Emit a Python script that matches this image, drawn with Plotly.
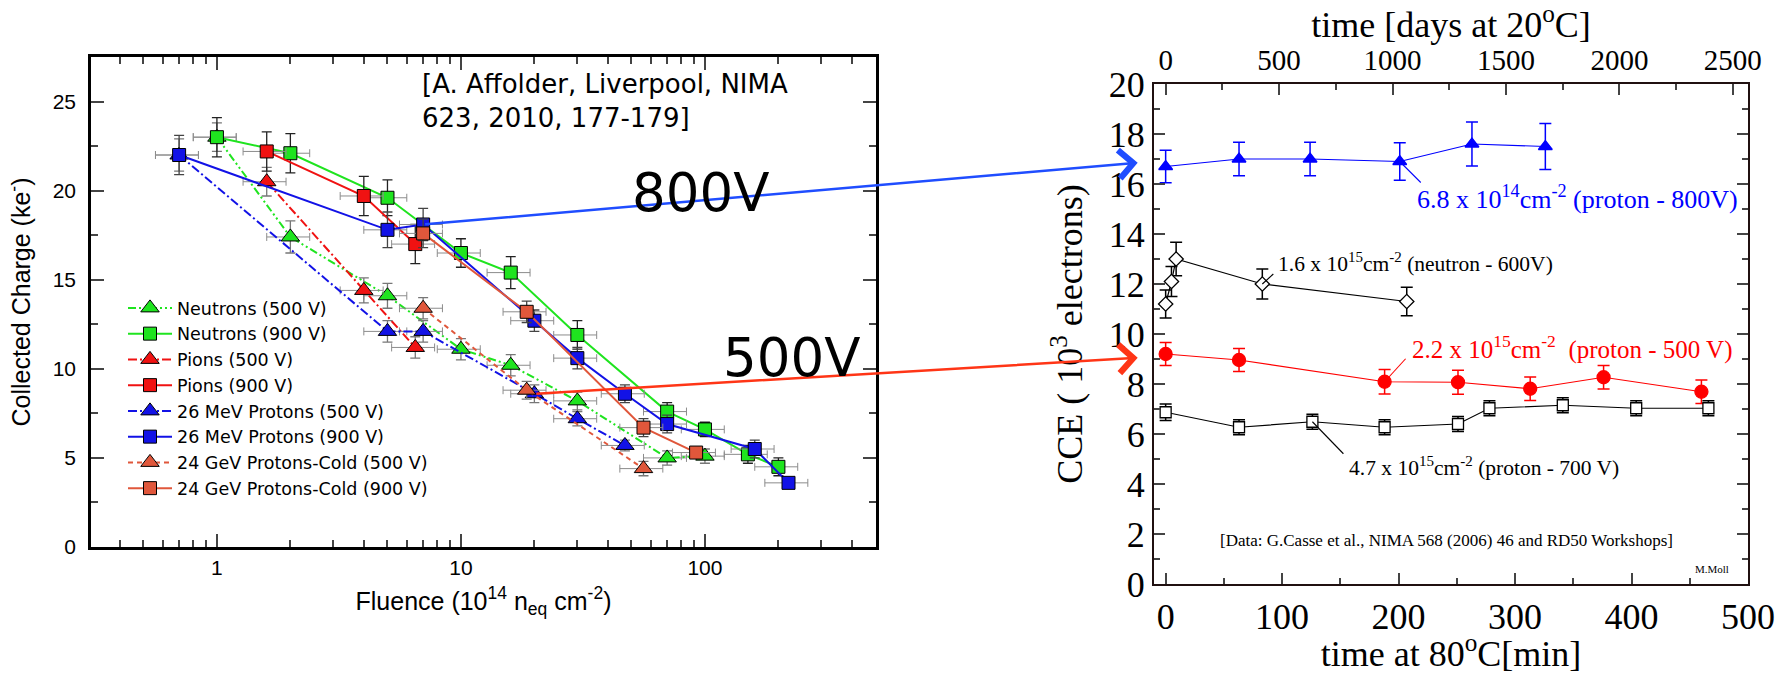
import numpy as np
import plotly.graph_objects as go

# ---------------- Left chart data: fluence (1e14 neq/cm2) vs collected charge (ke-)
neu500_f = [1, 2, 5, 10, 16, 30, 70, 100]
neu500_q = [23.0, 17.4, 14.1, 11.1, 10.2, 8.2, 5.0, 5.1]
neu500_e = [0.8, 0.9, 0.7, 0.6, 0.6, 0.5, 0.4, 0.4]
neu900_f = [1, 2, 5, 10, 16, 30, 70, 100, 150, 200]
neu900_q = [23.0, 22.1, 19.6, 16.5, 15.4, 11.9, 7.6, 6.6, 5.2, 4.5]
neu900_e = [1.1, 1.1, 1.0, 0.8, 0.9, 0.8, 0.5, 0.4, 0.5, 0.5]
pio500_f = [1.6, 4, 6.5]
pio500_q = [20.5, 14.4, 11.2]
pio500_e = [0.8, 0.7, 0.6]
pio900_f = [1.6, 4, 6.5]
pio900_q = [22.2, 19.7, 17.0]
pio900_e = [1.1, 1.1, 1.1]
p26_500_f = [0.7, 5, 7, 20, 30, 47]
p26_500_q = [22.0, 12.1, 12.1, 8.6, 7.2, 5.7]
p26_500_e = [0.9, 0.6, 0.6, 0.5, 0.4, 0.3]
p26_900_f = [0.7, 5, 7, 20, 30, 47, 70, 160, 220]
p26_900_q = [22.0, 17.8, 18.1, 12.7, 10.6, 8.6, 6.9, 5.5, 3.6]
p26_900_e = [1.1, 1.0, 0.9, 0.6, 0.6, 0.5, 0.5, 0.5, 0.3]
p24_500_f = [7, 18.6, 56]
p24_500_q = [13.4, 8.8, 4.4]
p24_500_e = [0.6, 0.5, 0.4]
p24_900_f = [7, 18.6, 56, 92]
p24_900_q = [17.6, 13.2, 6.7, 5.3]
p24_900_e = [0.8, 0.6, 0.5, 0.3]

# ---------------- Right chart data: annealing time at 80C (min) vs CCE (1e3 electrons)
t_blue = [0, 63, 124, 201, 263, 326]
cce_blue = [16.7, 17.0, 17.0, 16.9, 17.6, 17.5]
err_blue = [0.65, 0.67, 0.67, 0.75, 0.88, 0.92]
t_neu = [0, 5, 9, 83, 207]
cce_neu = [11.2, 12.1, 13.0, 12.0, 11.3]
err_neu = [0.56, 0.6, 0.67, 0.6, 0.57]
t_red = [0, 63, 188, 251, 313, 376, 460]
cce_red = [9.2, 8.96, 8.09, 8.07, 7.81, 8.27, 7.69]
err_red = [0.46, 0.46, 0.49, 0.48, 0.47, 0.47, 0.47]
t_blk = [0, 63, 126, 188, 251, 278, 341, 404, 466]
cce_blk = [6.87, 6.27, 6.49, 6.27, 6.4, 7.03, 7.15, 7.03, 7.03]
err_blk = [0.33, 0.3, 0.3, 0.3, 0.3, 0.3, 0.3, 0.3, 0.3]

# ---------------- layout constants
W, H = 1788, 674
LX_DOM = [91 / W, 876 / W]
LY_DOM = [1 - 547 / H, 1 - 57 / H]
LX_RANGE = [-0.516, 2.701]
LY_RANGE = [0, 27.5]
RX_DOM = [1154 / W, 1748 / W]
RY_DOM = [1 - 584 / H, 1 - 84 / H]
RX_RANGE = [-10, 500]
RX3_RANGE = [-51.6, 2567]
RY_RANGE = [0, 20]
ARROW_T = -24  # arrow tip position in minutes (just left of right axis)

GREEN = "#1fe41f"
RED = "#f01212"
BLUE = "#1212e6"
ORANGE = "#e0573b"
SANS = "Liberation Sans"
VERD = "DejaVu Sans"
SERIF = "Liberation Serif"

fig = go.Figure()


def left_trace(name, f, q, e, color, symbol, size, dash, ecol):
    fig.add_trace(go.Scatter(
        x=f, y=q, name=name, mode="lines+markers", xaxis="x", yaxis="y",
        line=dict(color=color, width=2, dash=dash),
        marker=dict(symbol=symbol, size=size, color=color,
                    line=dict(color="black", width=1)),
        error_y=dict(type="data", array=e, color=ecol, thickness=1.3, width=5),
        error_x=dict(type="percent", value=20, color="#8c8c8c", thickness=1, width=4),
    ))


DD = "8px,3px,2px,3px,2px,3px"
DA = "9px,3px,2px,3px"
left_trace("Neutrons (500 V)", neu500_f, neu500_q, neu500_e, GREEN, "triangle-up", 16, DD, "#777")
left_trace("Neutrons (900 V)", neu900_f, neu900_q, neu900_e, GREEN, "square", 13, "solid", "#222")
left_trace("Pions (500 V)", pio500_f, pio500_q, pio500_e, RED, "triangle-up", 16, DA, "#777")
left_trace("Pions (900 V)", pio900_f, pio900_q, pio900_e, RED, "square", 13, "solid", "#222")
left_trace("26 MeV Protons (500 V)", p26_500_f, p26_500_q, p26_500_e, BLUE, "triangle-up", 16, DA, "#777")
left_trace("26 MeV Protons (900 V)", p26_900_f, p26_900_q, p26_900_e, BLUE, "square", 13, "solid", "#444")
left_trace("24 GeV Protons-Cold (500 V)", p24_500_f, p24_500_q, p24_500_e, ORANGE, "triangle-up", 16, "5px,4px", "#777")
left_trace("24 GeV Protons-Cold (900 V)", p24_900_f, p24_900_q, p24_900_e, ORANGE, "square", 13, "solid", "#444")


def right_trace(t, c, e, color, symbol, size, fill):
    fig.add_trace(go.Scatter(
        x=t, y=c, mode="lines+markers", xaxis="x2", yaxis="y2", showlegend=False,
        line=dict(color=color, width=1.2),
        marker=dict(symbol=symbol, size=size, color=fill, line=dict(color=color, width=1.3)),
        error_y=dict(type="data", array=e, color=color, thickness=1.5, width=6),
    ))


right_trace(t_blue, cce_blue, err_blue, "#0000ff", "triangle-up", 12, "#0000ff")
right_trace(t_neu, cce_neu, err_neu, "black", "diamond", 11, "white")
right_trace(t_red, cce_red, err_red, "#ff0000", "circle", 13, "#ff0000")
right_trace(t_blk, cce_blk, err_blk, "black", "square", 11, "white")
# top (days at 20C) axis carrier
fig.add_trace(go.Scatter(x=[], y=[], xaxis="x3", yaxis="y2", showlegend=False))


def left_px(f, q):
    fx = LX_DOM[0] + (np.log10(f) - LX_RANGE[0]) / (LX_RANGE[1] - LX_RANGE[0]) * (LX_DOM[1] - LX_DOM[0])
    fy = LY_DOM[0] + (q - LY_RANGE[0]) / (LY_RANGE[1] - LY_RANGE[0]) * (LY_DOM[1] - LY_DOM[0])
    return fx * W, (1 - fy) * H


def right_paper(t, c):
    fx = RX_DOM[0] + (t - RX_RANGE[0]) / (RX_RANGE[1] - RX_RANGE[0]) * (RX_DOM[1] - RX_DOM[0])
    fy = RY_DOM[0] + (c - RY_RANGE[0]) / (RY_RANGE[1] - RY_RANGE[0]) * (RY_DOM[1] - RY_DOM[0])
    return fx, fy


annotations = []
# big arrows from the left chart points to the right chart series
for (f, q), c_tip, col in [((p26_900_f[2], p26_900_q[2]), cce_blue[0] + 0.15, "#1f4dff"),
                           ((p26_500_f[3], p26_500_q[3]), cce_red[0] - 0.15, "#ff3516")]:
    hx, hy = right_paper(ARROW_T, c_tip)
    tx, ty = left_px(f, q)
    annotations.append(dict(
        xref="paper", yref="paper", x=hx, y=hy, axref="pixel", ayref="pixel",
        ax=tx - hx * W, ay=ty - (1 - hy) * H, showarrow=True, arrowhead=4,
        arrowsize=2.2, arrowwidth=2.5, arrowcolor=col, text=" ", font=dict(size=4)))

# leader lines in right chart (pixel-sized segments anchored on data points)
shapes = []
for (t, c, dx, dy, col) in [(t_blue[3], cce_blue[3], 21, -21, "#0000ff"),
                            (t_neu[3], cce_neu[3], 11, 10, "black"),
                            (t_red[2], cce_red[2], 21, 23, "#ff0000"),
                            (t_blk[2], cce_blk[2], 31, -32, "black")]:
    shapes.append(dict(type="line", xref="x2", yref="y2", xsizemode="pixel", ysizemode="pixel",
                       xanchor=t, yanchor=c, x0=0, x1=dx, y0=0, y1=dy,
                       line=dict(color=col, width=1.1)))

# right chart labels
rlabels = [
    ("6.8 x 10<sup>14</sup>cm<sup>-2</sup> (proton - 800V)", 213.7, 15.48, 26, "#0000ff"),
    ("1.6 x 10<sup>15</sup>cm<sup>-2</sup> (neutron - 600V)", 94.5, 12.88, 21.5, "black"),
    ("2.2 x 10<sup>15</sup>cm<sup>-2</sup> \u00a0(proton - 500 V)", 209.4, 9.48, 25, "#ff0000"),
    ("4.7 x 10<sup>15</sup>cm<sup>-2</sup> (proton - 700 V)", 155.3, 4.72, 21.5, "black"),
    ("[Data: G.Casse et al., NIMA 568 (2006) 46 and RD50 Workshops]", 44.8, 1.73, 17, "black"),
]
for txt, x, y, s, col in rlabels:
    annotations.append(dict(xref="x2", yref="y2", x=x, y=y, text=txt, showarrow=False,
                            xanchor="left", yanchor="middle",
                            font=dict(family=SERIF, size=s, color=col)))
annotations.append(dict(xref="x2", yref="y2", x=469, y=0.6, text="M.Moll", showarrow=False,
                        xanchor="center", yanchor="middle",
                        font=dict(family=SERIF, size=11, color="black")))

# left chart texts
annotations.append(dict(xref="paper", yref="paper", x=420 / W, y=1 - 67 / H,
                        xanchor="left", yanchor="top", align="left", showarrow=False,
                        text="[A. Affolder, Liverpool, NIMA<br>623, 2010, 177-179]",
                        font=dict(family=VERD, size=26, color="black")))
annotations.append(dict(xref="paper", yref="paper", x=700 / W, y=1 - 192 / H,
                        xanchor="center", yanchor="middle",
                        text="800V", showarrow=False,
                        font=dict(family=VERD, size=53, color="black")))
annotations.append(dict(xref="paper", yref="paper", x=791 / W, y=1 - 357 / H,
                        xanchor="center", yanchor="middle",
                        text="500V", showarrow=False,
                        font=dict(family=VERD, size=53, color="black")))

axis_common = dict(showgrid=False, zeroline=False, showline=True, automargin=False)

fig.update_layout(
    width=W, height=H, margin=dict(l=0, r=0, t=0, b=0),
    paper_bgcolor="white", plot_bgcolor="white",
    showlegend=True,
    legend=dict(x=123 / W, y=1 - 290 / H, xanchor="left", yanchor="top",
                font=dict(family=VERD, size=17.5, color="black"),
                bgcolor="rgba(0,0,0,0)", itemwidth=44, tracegroupgap=0),
    xaxis=dict(domain=LX_DOM, type="log", range=LX_RANGE, dtick=1, anchor="y",
               ticks="inside", ticklen=13, tickwidth=2, linewidth=2.5, linecolor="black",
               mirror="ticks",
               minor=dict(ticks="inside", ticklen=7, tickwidth=1.5, dtick="D1", showgrid=False),
               tickfont=dict(family=SANS, size=21, color="black"),
               title=dict(text="Fluence (10<sup>14</sup> n<sub>eq</sub> cm<sup>-2</sup>)",
                          font=dict(family=SANS, size=25, color="black")),
               **axis_common),
    yaxis=dict(domain=LY_DOM, range=LY_RANGE, dtick=5, anchor="x",
               ticks="inside", ticklen=13, tickwidth=2, linewidth=2.5, linecolor="black",
               mirror="ticks", ticklabelstandoff=8,
               minor=dict(ticks="inside", ticklen=7, tickwidth=1.5, dtick=2.5, showgrid=False),
               tickfont=dict(family=SANS, size=21, color="black"),
               title=dict(text="Collected Charge (ke<sup>-</sup>)",
                          font=dict(family=SANS, size=25, color="black")),
               **axis_common),
    xaxis2=dict(domain=RX_DOM, range=RX_RANGE, dtick=100, anchor="y2",
                ticks="inside", ticklen=11, tickwidth=1.5, linewidth=2, linecolor="#201010",
                minor=dict(ticks="inside", ticklen=6, tickwidth=1.5, dtick=50, showgrid=False),
                tickfont=dict(family=SERIF, size=36, color="black"),
                title=dict(text="time at 80<sup>o</sup>C[min]",
                           font=dict(family=SERIF, size=36, color="black")),
                **axis_common),
    xaxis3=dict(overlaying="x2", side="top", range=RX3_RANGE, dtick=500, anchor="y2",
                ticks="inside", ticklen=11, tickwidth=1.5, linewidth=2, linecolor="#201010",
                minor=dict(ticks="inside", ticklen=6, tickwidth=1.5, dtick=250, showgrid=False),
                tickfont=dict(family=SERIF, size=29, color="black"),
                title=dict(text="time [days at 20<sup>o</sup>C]",
                           font=dict(family=SERIF, size=36, color="black")),
                **axis_common),
    yaxis2=dict(domain=RY_DOM, range=RY_RANGE, dtick=2, anchor="x2",
                ticks="inside", ticklen=11, tickwidth=1.5, linewidth=2, linecolor="#201010",
                mirror="ticks",
                minor=dict(ticks="inside", ticklen=6, tickwidth=1.5, dtick=1, showgrid=False),
                tickfont=dict(family=SERIF, size=36, color="black"),
                title=dict(text="CCE ( 10<sup>3</sup> electrons)",
                           font=dict(family=SERIF, size=36, color="black")),
                **axis_common),
    annotations=annotations,
    shapes=shapes,
)

fig.write_html("out.html")
